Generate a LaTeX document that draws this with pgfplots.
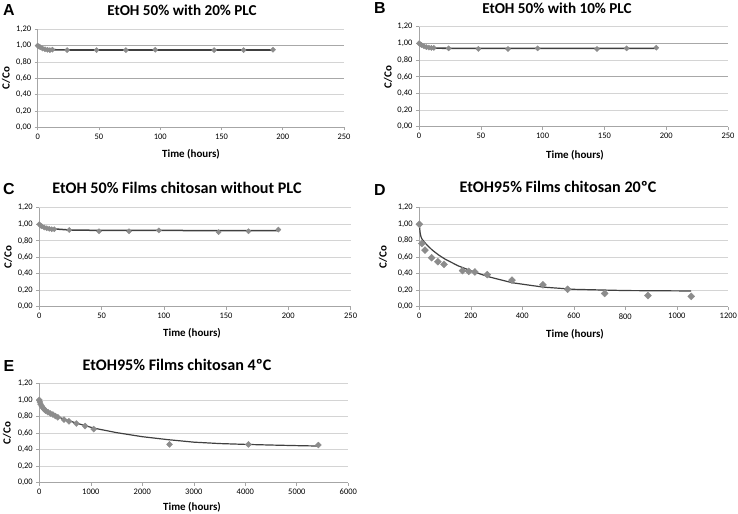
\documentclass[border=0pt]{standalone}
\usepackage{fontspec}
\setmainfont{Carlito}
\newfontfamily\letterfont{Liberation Sans}
\usepackage{pgfplots}
\pgfplotsset{compat=1.18}
\definecolor{mk}{HTML}{8C8C8C}
\definecolor{ln}{HTML}{404040}
\definecolor{gr}{HTML}{D4D4D4}
\definecolor{grd}{HTML}{A8A8A8}
\definecolor{ax}{HTML}{A6A6A6}
\pgfplotsset{
  panel/.style={
    scale only axis, anchor=south west,
    ymin=0, ymax=1.2, ytick={0,0.2,0.4,0.6,0.8,1.0,1.2},
    ymajorgrids, grid style={gr, line width=0.8bp},
    axis x line*=bottom, axis y line*=left,
    axis line style={ax, line width=0.8bp, -},
    tick style={ax, line width=0.6bp}, major tick length=3bp, tick align=outside,
    y tick label style={/pgf/number format/.cd, fixed, fixed zerofill, precision=2, use comma},
    x tick label style={/pgf/number format/1000 sep={}},
    tick label style={font=\fontsize{8.5}{10}\selectfont, black},
    /pgf/number format/assume math mode=true,
    clip=false},
  darkgrid/.style={extra y ticks={0.6,1.0}, extra y tick labels={},
    extra y tick style={grid style={grd, line width=1bp}, major tick length=0pt}},
  mks/.style={only marks, mark=diamond*, mark size=#1, mark options={fill=mk, draw=mk, xscale=1.33}},
  fit/.style={ln, line width=#1, no marks}
}
\newcommand{\ttl}[4]{\node[font=\fontsize{#4}{18}\selectfont\bfseries] at (#1bp,{(514-#2)*1bp}) {#3};}
\newcommand{\lett}[3]{\node[font=\fontsize{16}{18}\selectfont\letterfont\bfseries] at (#1bp,{(514-#2)*1bp}) {#3};}
\newcommand{\ylab}[2]{\node[rotate=90, font=\fontsize{11}{13}\selectfont\bfseries] at (#1bp,{(514-#2)*1bp}) {C/Co};}
\newcommand{\xlab}[2]{\node[font=\fontsize{11}{13}\selectfont\bfseries] at (#1bp,{(514-#2)*1bp}) {Time (hours)};}
\begin{document}
\begin{tikzpicture}
\path[use as bounding box] (0,0) rectangle (738bp,514bp);
% Panel A
\begin{axis}[panel, darkgrid, at={(37.7bp,386.7bp)}, width=306.3bp, height=98bp,
  xmin=0, xmax=250, xtick={0,50,100,150,200,250}]
\addplot[mks=2.6] coordinates {(0,1.0)(1,0.99)(2,0.98)(4,0.965)(6,0.955)(8,0.95)(10,0.945)(12,0.95)(24,0.945)(48,0.945)(72,0.945)(96,0.95)(144,0.945)(168,0.945)(192,0.95)};
\addplot[fit=1.6bp] coordinates {(0,1.0)(1,0.985)(2,0.975)(4,0.963)(6,0.956)(10,0.95)(24,0.947)(192,0.947)};
\end{axis}
% Panel B
\begin{axis}[panel, darkgrid, at={(419bp,387.3bp)}, width=309bp, height=100bp,
  xmin=0, xmax=250, xtick={0,50,100,150,200,250}]
\addplot[mks=2.6] coordinates {(0,1.0)(1,0.99)(2,0.98)(4,0.965)(6,0.955)(8,0.95)(10,0.945)(12,0.945)(24,0.94)(48,0.933)(72,0.933)(96,0.94)(144,0.933)(168,0.94)(192,0.948)};
\addplot[fit=1.6bp] coordinates {(0,1.0)(2,0.975)(5,0.955)(10,0.945)(24,0.94)(192,0.94)};
\end{axis}
% Panel C
\begin{axis}[panel, at={(39.3bp,207.3bp)}, width=311.3bp, height=99bp,
  xmin=0, xmax=250, xtick={0,50,100,150,200,250}]
\addplot[mks=2.6] coordinates {(0,1.0)(1,0.985)(2,0.975)(4,0.96)(6,0.95)(8,0.945)(10,0.94)(12,0.94)(24,0.93)(48,0.915)(72,0.915)(96,0.925)(144,0.905)(168,0.915)(192,0.935)};
\addplot[fit=1.5bp] coordinates {(0,1.0)(2,0.975)(5,0.955)(10,0.945)(24,0.93)(48,0.925)(192,0.922)};
\end{axis}
% Panel D
\begin{axis}[panel, at={(419.3bp,207.3bp)}, width=309bp, height=99.3bp,
  xmin=0, xmax=1200, xtick={0,200,400,600,800,1000,1200}]
\addplot[mks=3.5] coordinates {(0,0.996)(10,0.764)(22,0.684)(48,0.592)(72,0.544)(96,0.512)(168,0.436)(192,0.428)(216,0.42)(264,0.388)(360,0.32)(480,0.264)(576,0.21)(720,0.16)(888,0.135)(1056,0.125)};
\addplot[fit=1.2bp] coordinates {(0,1.0)(3,0.9)(6,0.85)(10,0.82)(17,0.79)(30,0.745)(50,0.685)(75,0.625)(100,0.575)(150,0.495)(200,0.435)(265,0.365)(360,0.29)(480,0.237)(600,0.21)(800,0.195)(1056,0.19)};
\end{axis}
% Panel E
\begin{axis}[panel, at={(39.3bp,31.3bp)}, width=309bp, height=99.3bp,
  xmin=0, xmax=6000, xtick={0,1000,2000,3000,4000,5000,6000}]
\addplot[mks=3] coordinates {(0,1.0)(12,0.975)(24,0.95)(48,0.925)(72,0.905)(96,0.885)(120,0.87)(168,0.852)(216,0.836)(264,0.824)(312,0.805)(360,0.79)(480,0.762)(576,0.742)(720,0.715)(888,0.685)(1056,0.648)(2530,0.463)(4060,0.463)(5420,0.455)};
\addplot[fit=1.2bp] coordinates {(0,1.0)(24,0.955)(72,0.91)(168,0.858)(264,0.826)(360,0.797)(480,0.768)(720,0.72)(1056,0.66)(1500,0.605)(2000,0.556)(2500,0.52)(3000,0.49)(3500,0.473)(4000,0.463)(4500,0.455)(5000,0.448)(5420,0.443)};
\end{axis}
% Titles and labels
\ttl{182}{10}{EtOH 50\% with 20\% PLC}{15.2}
\ttl{557}{8}{EtOH 50\% with 10\% PLC}{15.2}
\ttl{177}{188}{EtOH 50\% Films chitosan without PLC}{16.2}
\ttl{558}{187}{EtOH95\% Films chitosan 20ºC}{16.2}
\ttl{177}{365}{EtOH95\% Films chitosan 4ºC}{16.2}
\lett{9}{10}{A}
\lett{380}{8}{B}
\lett{9}{189}{C}
\lett{380}{190}{D}
\lett{9}{366}{E}
\ylab{6}{78}
\ylab{388}{77}
\ylab{8}{257}
\ylab{383}{257}
\ylab{7}{433}
\xlab{191}{154}
\xlab{575}{155}
\xlab{192}{333}
\xlab{575}{334}
\xlab{192}{507}
\end{tikzpicture}
\end{document}
